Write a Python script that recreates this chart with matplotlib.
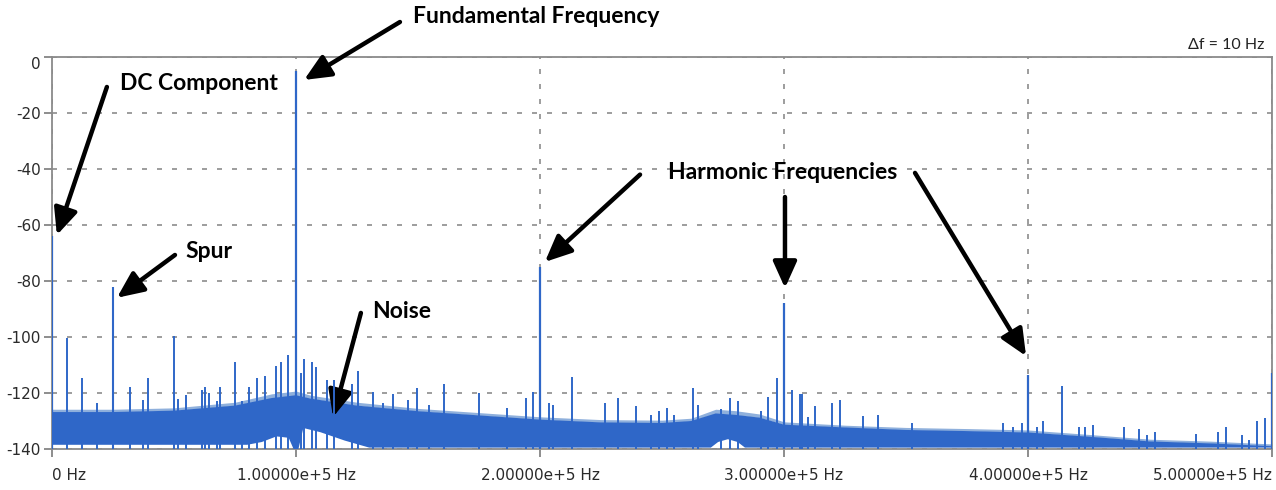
import numpy as np
from matplotlib import pyplot as plt
from matplotlib.ticker import FixedLocator

plt.rcParams['axes.unicode_minus'] = False

# main tones (kHz, dB)
ton_f = [0, 100, 200, 300, 400, 500]
ton_db = [-64, -5, -75, -88, -113.5, -113]

# spur (kHz, dB)
spur_f = [25]
spur_db = [-82]

# small spurs (kHz, dB)
mali_f = [6, 12.2, 18.4, 32, 37.4, 39.3, 50, 51.7, 55, 61.4, 62.7, 64.5, 67.5, 68.9,
          75, 77.7, 80.8, 84, 87.3, 91.8, 93.8, 96.7, 102, 103.3, 106.5, 108,
          112.6, 115.6, 122.8, 125.4, 131.6, 135.5, 139.6, 145.7, 149.6, 154.5,
          160.7, 175, 186.5, 194.3, 197.1, 203.7, 205.3, 213, 226.6, 232,
          239.3, 245.5, 248.8, 252, 254.9, 262.7, 264.8, 274, 277.9, 281,
          290.6, 293.4, 297, 303.3, 306.5, 307.5, 310, 312.7, 319.7, 323,
          332.4, 338.5, 352.5, 389.8, 393.9, 397.5, 403.7, 406, 414, 420.9,
          423.4, 426.6, 439.3, 445.5, 448.8, 452, 468.9, 478, 481, 487.7,
          490.6, 493.8, 497.1]
mali_db = [-100.5, -114.6, -123.6, -118, -122.5, -114.6, -99.6, -122, -120.7, -119, -117.8, -120, -123, -117.8,
           -109, -123, -117.8, -114.6, -114, -110.4, -109, -106.6, -113, -108, -109, -110.6,
           -115.4, -115.4, -116.8, -112, -119.6, -123.6, -120.4, -122.5, -118.2, -124.3,
           -116.8, -120, -125.4, -121.8, -119.6, -123.6, -124.3, -114.3, -123.6, -121.8,
           -124.6, -128, -126.4, -125.5, -128, -118.2, -124.4, -125.7, -121.8, -122.7,
           -126.4, -121.5, -114.6, -119, -120.4, -120.4, -128.6, -124.6, -123.6, -122.5,
           -128.3, -127.7, -130.6, -130.7, -132, -130.7, -132, -130, -117.5, -132,
           -132, -131.3, -132.3, -133, -135, -133.8, -134.5, -133.8, -132.3, -135,
           -136.7, -130, -128.8]

# noise floor envelopes (kHz, dB)
sum_f = [0, 25, 50, 75, 90, 100, 106, 125, 150, 175, 200, 225, 250, 262, 272,
         280, 290, 300, 325, 350, 375, 400, 425, 450, 475, 500]
sum_max = [-125.8, -125.8, -125.3, -123.3, -120.3, -119.3, -120.8, -123.3, -125.5, -127, -128.5, -129.5,
           -129.7, -129, -125.8, -126.3, -127.5, -130.3, -131.5, -132.3, -132.7, -133.2, -134.8,
           -136.5, -137.2, -138.2]
sum_gore = [-126.8, -126.8, -126.3, -124.5, -121.8, -120.8, -122, -124.5, -126.5, -128, -129.5, -130.5,
            -130.7, -130, -127.3, -127.8, -128.8, -131.3, -132.3, -133.2, -133.6, -134.1, -135.6,
            -137.3, -138, -139]
dno_f = [0, 80, 86, 92, 97, 99, 101, 103, 110, 120, 130, 270, 273, 277, 281, 284, 500]
dno_db = [-138.5, -138.5, -137.5, -135.5, -136, -140, -140, -132.5, -134, -137, -139.5,
          -139.5, -137.5, -136.5, -137.5, -139.5, -139.5]

plava = '#2f67c8'

fig = plt.figure(figsize=(12.76, 4.9), dpi=100)
ax = fig.add_axes([52 / 1276, 41 / 490, 1220 / 1276, 392 / 490])

# sum: svetli rub gore, tamna traka ispod
ax.fill_between(np.array(sum_f) * 1000, sum_gore, sum_max, color='#8fb0dc', lw=0, zorder=2)
poli_x = np.concatenate([np.array(sum_f), np.array(dno_f)[::-1]]) * 1000
poli_y = np.concatenate([sum_gore, dno_db[::-1]])
ax.fill(poli_x, poli_y, color=plava, lw=0, zorder=3)

# spurovi i tonovi
ax.vlines(np.array(mali_f) * 1000, -140, mali_db, color=plava, lw=1.4, zorder=4)
ax.vlines(np.array(spur_f) * 1000, -140, spur_db, color=plava, lw=1.5, zorder=4)
ax.vlines(np.array(ton_f) * 1000, -140, ton_db, color=plava, lw=1.6, zorder=5)

ax.set_xlim(0, 5e5)
ax.set_ylim(-140, 0)

xt = [0, 1e5, 2e5, 3e5, 4e5, 5e5]
xl = ['0 Hz', '1.00000e+5 Hz', '2.00000e+5 Hz', '3.00000e+5 Hz', '4.00000e+5 Hz', '5.00000e+5 Hz']
ax.xaxis.set_major_locator(FixedLocator(xt))
ax.set_xticklabels(xl)
ax.set_yticks([0, -20, -40, -60, -80, -100, -120, -140])
ax.tick_params(axis='both', length=6, width=1.2, color='#7a7a7a', labelsize=11,
               labelcolor='#2a2a2a', pad=8)
ax.tick_params(axis='y', pad=2)
xlabs = ax.get_xticklabels()
xlabs[0].set_horizontalalignment('left')
xlabs[-1].set_horizontalalignment('right')
ax.get_yticklabels()[0].set_verticalalignment('top')

for s in ax.spines.values():
    s.set_color('#8a8a8a')
    s.set_linewidth(1.3)

ax.grid(True, color='#8c8c8c', linestyle=(0, (3, 6)), lw=1.2)
ax.set_axisbelow(True)

ax.text(0.994, 1.03, '\u0394f = 10 Hz', transform=ax.transAxes, ha='right', va='center',
        fontsize=11.5, family='Lato', color='#222222')

strelica = dict(arrowstyle='-|>,head_length=1.0,head_width=0.45', lw=3.2, color='black',
                mutation_scale=16, shrinkA=0, shrinkB=0)
fs = 16.5

ax.annotate('', xy=(2.0e3, -63.6), xytext=(22.5e3, -10.7), arrowprops=strelica, annotation_clip=False)
ax.text(27.9e3, -9.6, 'DC Component', fontsize=fs, fontweight='bold', family='Lato', va='center')

ax.annotate('', xy=(103.3e3, -8.2), xytext=(142.6e3, 12.5), arrowprops=strelica, annotation_clip=False)
ax.text(148e3, 14.3, 'Fundamental Frequency', fontsize=fs, fontweight='bold', family='Lato', va='center')

ax.annotate('', xy=(26.6e3, -86), xytext=(50.4e3, -70.7), arrowprops=strelica, annotation_clip=False)
ax.text(54.5e3, -69.3, 'Spur', fontsize=fs, fontweight='bold', family='Lato', va='center')

ax.annotate('', xy=(115.2e3, -128.6), xytext=(126.6e3, -91.4), arrowprops=strelica, annotation_clip=False)
ax.text(131e3, -91, 'Noise', fontsize=fs, fontweight='bold', family='Lato', va='center')

ax.text(252.5e3, -41.4, 'Harmonic Frequencies', fontsize=fs, fontweight='bold', family='Lato', va='center')
ax.annotate('', xy=(202e3, -73.2), xytext=(241e3, -42), arrowprops=strelica, annotation_clip=False)
ax.annotate('', xy=(300.4e3, -82.5), xytext=(300.4e3, -50), arrowprops=strelica, annotation_clip=False)
ax.annotate('', xy=(399.2e3, -106.8), xytext=(353.7e3, -41.4), arrowprops=strelica, annotation_clip=False)

plt.savefig('out.png', dpi=100)
